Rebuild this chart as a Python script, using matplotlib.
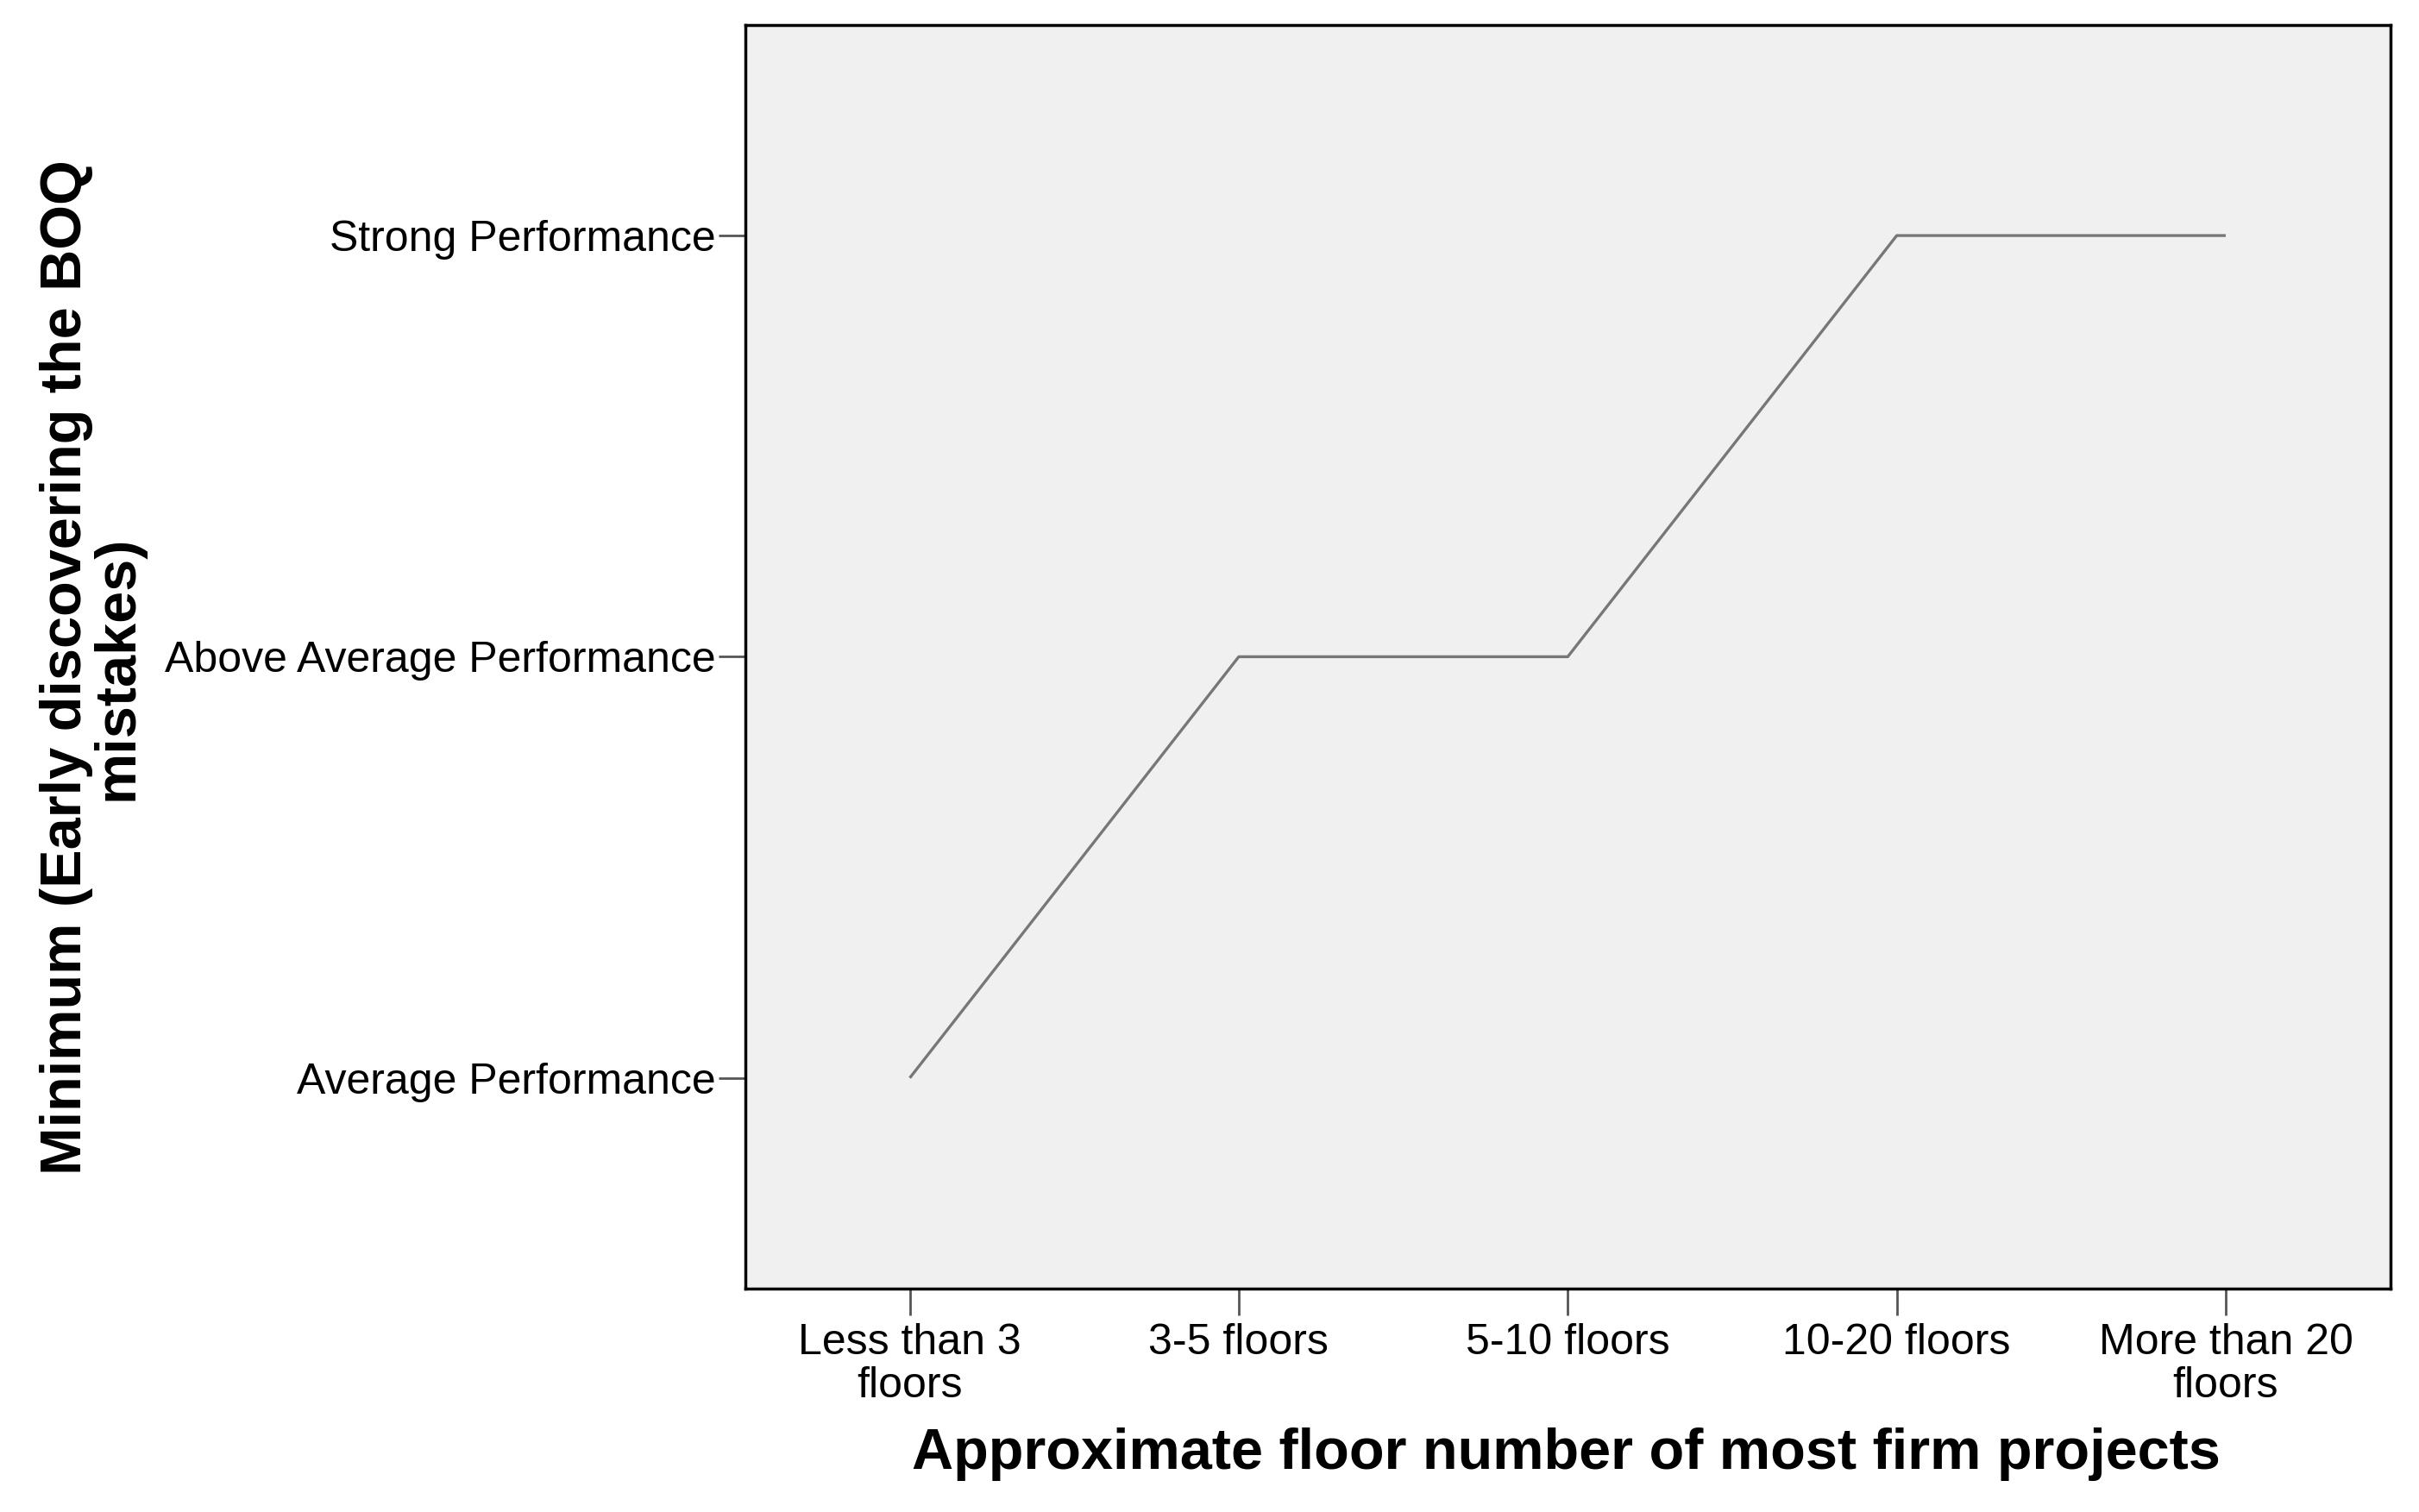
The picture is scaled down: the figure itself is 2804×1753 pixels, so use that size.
import matplotlib
matplotlib.use("Agg")
import matplotlib.pyplot as plt

# data
floor_groups = ["Less than 3\nfloors", "3-5 floors", "5-10 floors", "10-20 floors", "More than 20\nfloors"]
min_score = [1, 2, 2, 3, 3]
perf_levels = [1, 2, 3]
perf_labels = ["Average Performance", "Above Average Performance", "Strong Performance"]

plt.rcParams['font.family'] = ['Liberation Sans', 'DejaVu Sans']

fig = plt.figure(figsize=(28.04, 17.53), dpi=100)
ax = fig.add_axes([0.3081, 0.1478, 0.68, 0.8357])
ax.set_facecolor("#f0f0f0")

x = list(range(len(floor_groups)))
ax.plot(x, min_score, color="#777777", lw=2.4, solid_capstyle="butt")

ax.set_xlim(-0.5, 4.5)
ax.set_ylim(0.5, 3.5)
ax.set_xticks(x)
ax.set_xticklabels(floor_groups, fontsize=36, linespacing=1.1)
ax.set_yticks(perf_levels)
ax.set_yticklabels(perf_labels, fontsize=36)
ax.tick_params(axis="both", length=22, width=2, color="#555555", pad=3)
ax.tick_params(axis="x", pad=7)

for s in ax.spines.values():
    s.set_linewidth(2.5)
    s.set_color("black")

fig.text(0.6475, 0.038, "Approximate floor number of most firm projects",
         fontsize=48, fontweight="bold", ha="center", va="center")
fig.text(0.038, 0.5585, "Minimum (Early discovering the BOQ\nmistakes)",
         fontsize=48, fontweight="bold", ha="center", va="center",
         rotation=90, multialignment="center", linespacing=0.95)

fig.savefig("out.png", dpi=100)
